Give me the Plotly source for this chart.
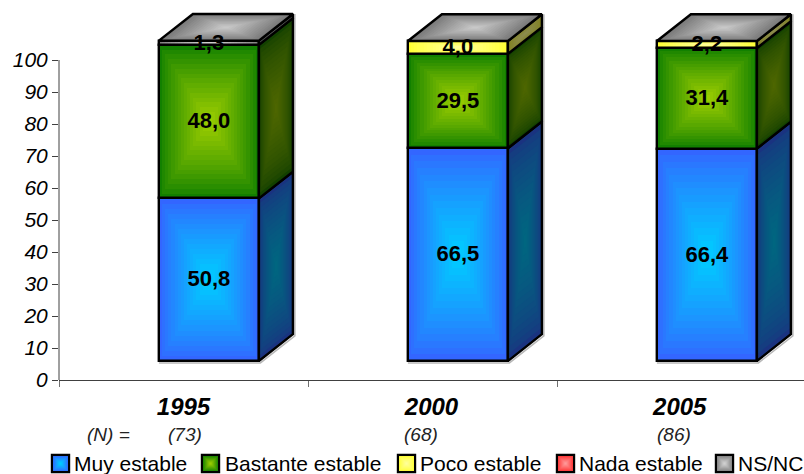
import plotly.graph_objects as go

years = ["1995", "2000", "2005"]
sample_sizes = ["(73)", "(68)", "(86)"]
series_names = ["Muy estable", "Bastante estable", "Poco estable", "Nada estable", "NS/NC"]
muy_estable = [50.8, 66.5, 66.4]
bastante_estable = [48.0, 29.5, 31.4]
poco_estable = [0.0, 4.0, 2.2]
nada_estable = [0.0, 0.0, 0.0]
ns_nc = [1.3, 0.0, 0.0]
y_ticks = list(range(0, 101, 10))

all_values = [muy_estable, bastante_estable, poco_estable, nada_estable, ns_nc]
front_edge = ["#3366FF", "#128000", "#FFFF33", "#FF3333", "#808080"]
front_mid = ["#00CCFF", "#99CC00", "#FFFF99", "#FF9999", "#D0D0D0"]
side_edge = ["#1A3380", "#124000", "#80801A", "#801A1A", "#404040"]
side_mid = ["#006680", "#4D6600", "#8C8C50", "#804D4D", "#606060"]
top_edge, top_mid = "#7A7A7A", "#C8C8C8"

PLOT_L, PLOT_W, PLOT_B, PLOT_H = 59, 745, 380, 378
SLOT_OFFSET = 0.602
BAR_W = 100 / 249
DEPTH_X = 34 / 249
DEPTH_Y = 8.35
FLOOR = 5.94
LEVELS = 16
EDGE = 2.4
centers = [i + SLOT_OFFSET for i in range(len(years))]


def px(x):
    return (x - PLOT_L) / PLOT_W


def py(y):
    return (PLOT_B - y) / PLOT_H


def mix(a, b, t):
    ca = [int(a[i:i + 2], 16) for i in (1, 3, 5)]
    cb = [int(b[i:i + 2], 16) for i in (1, 3, 5)]
    return "rgb(%d,%d,%d)" % tuple(round(p + (q - p) * t) for p, q in zip(ca, cb))


def shrink(poly, s):
    cx = sum(p[0] for p in poly) / len(poly)
    cy = sum(p[1] for p in poly) / len(poly)
    return [(cx + (p[0] - cx) * s, cy + (p[1] - cy) * s) for p in poly]


def poly_xy(polys):
    xs, ys = [], []
    for poly in polys:
        closed = poly + [poly[0]]
        xs += [p[0] for p in closed] + [None]
        ys += [p[1] for p in closed] + [None]
    return xs, ys


fig = go.Figure()

bases = []
running = [FLOOR] * len(years)
for vals in all_values:
    bases.append(list(running))
    running = [r + v for r, v in zip(running, vals)]
tops = running

# front faces: nested bars build the rectangular gradient
for k, (name, vals) in enumerate(zip(series_names, all_values)):
    fig.add_trace(go.Bar(
        x=centers, y=vals, base=bases[k], width=BAR_W, name=name,
        marker=dict(color=front_edge[k], line=dict(width=0)),
        hoverinfo="skip", showlegend=False))
    for lv in range(1, LEVELS):
        s = 1 - lv / LEVELS
        fig.add_trace(go.Bar(
            x=centers, y=[v * s for v in vals],
            base=[b + v * (1 - s) / 2 for b, v in zip(bases[k], vals)],
            width=BAR_W * s,
            marker=dict(color=mix(front_edge[k], front_mid[k], (lv / (LEVELS - 1)) ** 0.85), line=dict(width=0)),
            hoverinfo="skip", showlegend=False))
    fig.add_trace(go.Bar(
        x=centers, y=vals, base=bases[k], width=BAR_W,
        marker=dict(color="rgba(0,0,0,0)", line=dict(color="black", width=EDGE)),
        hoverinfo="skip", showlegend=False))

# soft grey shadow along right and bottom edges
shx, shy = [], []
for c, t in zip(centers, tops):
    l, r = c - BAR_W / 2, c + BAR_W / 2
    shx += [r + DEPTH_X + 0.008, r + DEPTH_X + 0.008, r + 0.006, l, None]
    shy += [t + DEPTH_Y, FLOOR + DEPTH_Y - 0.5, FLOOR - 0.6, FLOOR - 0.6, None]
fig.add_trace(go.Scatter(x=shx, y=shy, mode="lines", line=dict(color="#B8B8B8", width=1.5),
                         hoverinfo="skip", showlegend=False))

# side faces
for k, vals in enumerate(all_values):
    polys = []
    for c, b, v in zip(centers, bases[k], vals):
        if v > 0:
            r = c + BAR_W / 2
            polys.append([(r, b), (r + DEPTH_X, b + DEPTH_Y), (r + DEPTH_X, b + v + DEPTH_Y), (r, b + v)])
    if not polys:
        continue
    for lv in range(LEVELS):
        s = 1 - lv / LEVELS
        xs, ys = poly_xy([shrink(p, s) for p in polys])
        fig.add_trace(go.Scatter(
            x=xs, y=ys, mode="lines", fill="toself", line=dict(width=0),
            fillcolor=mix(side_edge[k], side_mid[k], (lv / (LEVELS - 1)) ** 0.6),
            hoverinfo="skip", showlegend=False))
    xs, ys = poly_xy(polys)
    fig.add_trace(go.Scatter(x=xs, y=ys, mode="lines", line=dict(color="black", width=EDGE),
                             hoverinfo="skip", showlegend=False))

# top faces
top_polys = []
for c, t in zip(centers, tops):
    l, r = c - BAR_W / 2, c + BAR_W / 2
    top_polys.append([(l, t), (r, t), (r + DEPTH_X, t + DEPTH_Y), (l + DEPTH_X, t + DEPTH_Y)])
for lv in range(LEVELS):
    s = 1 - lv / LEVELS
    xs, ys = poly_xy([shrink(p, s) for p in top_polys])
    fig.add_trace(go.Scatter(x=xs, y=ys, mode="lines", fill="toself", line=dict(width=0),
                             fillcolor=mix(top_edge, top_mid, lv / (LEVELS - 1)),
                             hoverinfo="skip", showlegend=False))
xs, ys = poly_xy(top_polys)
fig.add_trace(go.Scatter(x=xs, y=ys, mode="lines", line=dict(color="black", width=EDGE),
                         hoverinfo="skip", showlegend=False))

# value labels
LABEL_NUDGE = -0.4
lx, ly, lt = [], [], []
for k, vals in enumerate(all_values):
    for c, b, v in zip(centers, bases[k], vals):
        if v > 0:
            lx.append(c)
            ly.append(b + v / 2 + LABEL_NUDGE)
            lt.append(f"{v:.1f}".replace(".", ","))
fig.add_trace(go.Scatter(x=lx, y=ly, text=lt, mode="text",
                         textfont=dict(family="Liberation Sans", size=22, color="black"),
                         texttemplate="<b>%{text}</b>", hoverinfo="skip", showlegend=False))

# sample-size row
annotations = []
for t, xc in zip(["(N) ="] + sample_sizes, [108, 185, 421, 674]):
    annotations.append(dict(x=px(xc), y=py(434), xref="paper", yref="paper", text=f"<i>{t}</i>",
                            showarrow=False, xanchor="center", yanchor="middle",
                            font=dict(family="Liberation Sans", size=19, color="#222222")))

# legend row
shapes = [dict(type="line", xref="paper", yref="y", x0=0, x1=0, y0=0, y1=100,
               line=dict(color="#404040", width=1))]
swatch_left = [52, 202, 398, 557, 716]
text_left = [73, 224, 419, 578, 737]
SW = 17
for k, name in enumerate(series_names):
    x0 = swatch_left[k]
    y0 = 455
    shapes.append(dict(type="rect", xref="paper", yref="paper", x0=px(x0), x1=px(x0 + SW),
                       y0=py(y0), y1=py(y0 + SW), fillcolor=front_edge[k], line=dict(color="black", width=2.4)))
    for lv in range(1, 8):
        d = lv * SW / 16
        shapes.append(dict(type="rect", xref="paper", yref="paper", x0=px(x0 + d), x1=px(x0 + SW - d),
                           y0=py(y0 + d), y1=py(y0 + SW - d), line=dict(width=0),
                           fillcolor=mix(front_edge[k], front_mid[k], lv / 7)))
    annotations.append(dict(x=px(text_left[k]), y=py(463), xref="paper", yref="paper", text=name,
                            showarrow=False, xanchor="left", yanchor="middle", borderpad=0,
                            font=dict(family="Liberation Sans", size=21, color="black")))

fig.update_layout(
    width=804, height=474, autosize=False,
    margin=dict(l=PLOT_L, r=0, t=2, b=94),
    paper_bgcolor="white", plot_bgcolor="white",
    barmode="overlay", bargap=0, showlegend=False,
    font=dict(family="Liberation Sans", color="black"),
    xaxis=dict(range=[0, PLOT_W / 249], showgrid=False, zeroline=False, showline=True, linecolor="#404040", linewidth=1,
               tickmode="array", tickvals=[0.5, 1.496, 2.493],
               ticktext=[f"<b><i>{y}</i></b>" for y in years], ticks="", ticklabelstandoff=5,
               tickfont=dict(family="Liberation Sans", size=24, color="black"),
               minor=dict(tickmode="array", tickvals=[0, 1, 2, 3], ticks="outside", ticklen=6, tickcolor="#707070", tickwidth=1)),
    yaxis=dict(range=[0, PLOT_H / 3.2], showgrid=False, zeroline=False, showline=False,
               tickmode="array", tickvals=y_ticks, ticktext=[f"<i>{v}</i>" for v in y_ticks],
               ticks="outside", ticklen=6, tickcolor="#404040", tickwidth=1,
               tickfont=dict(family="Liberation Sans", size=21, color="black")),
    shapes=shapes,
    annotations=annotations,
)

fig.write_html("out.html", config={"displayModeBar": False},
               post_script="document.body.style.margin='0';document.body.style.overflow='hidden';")
